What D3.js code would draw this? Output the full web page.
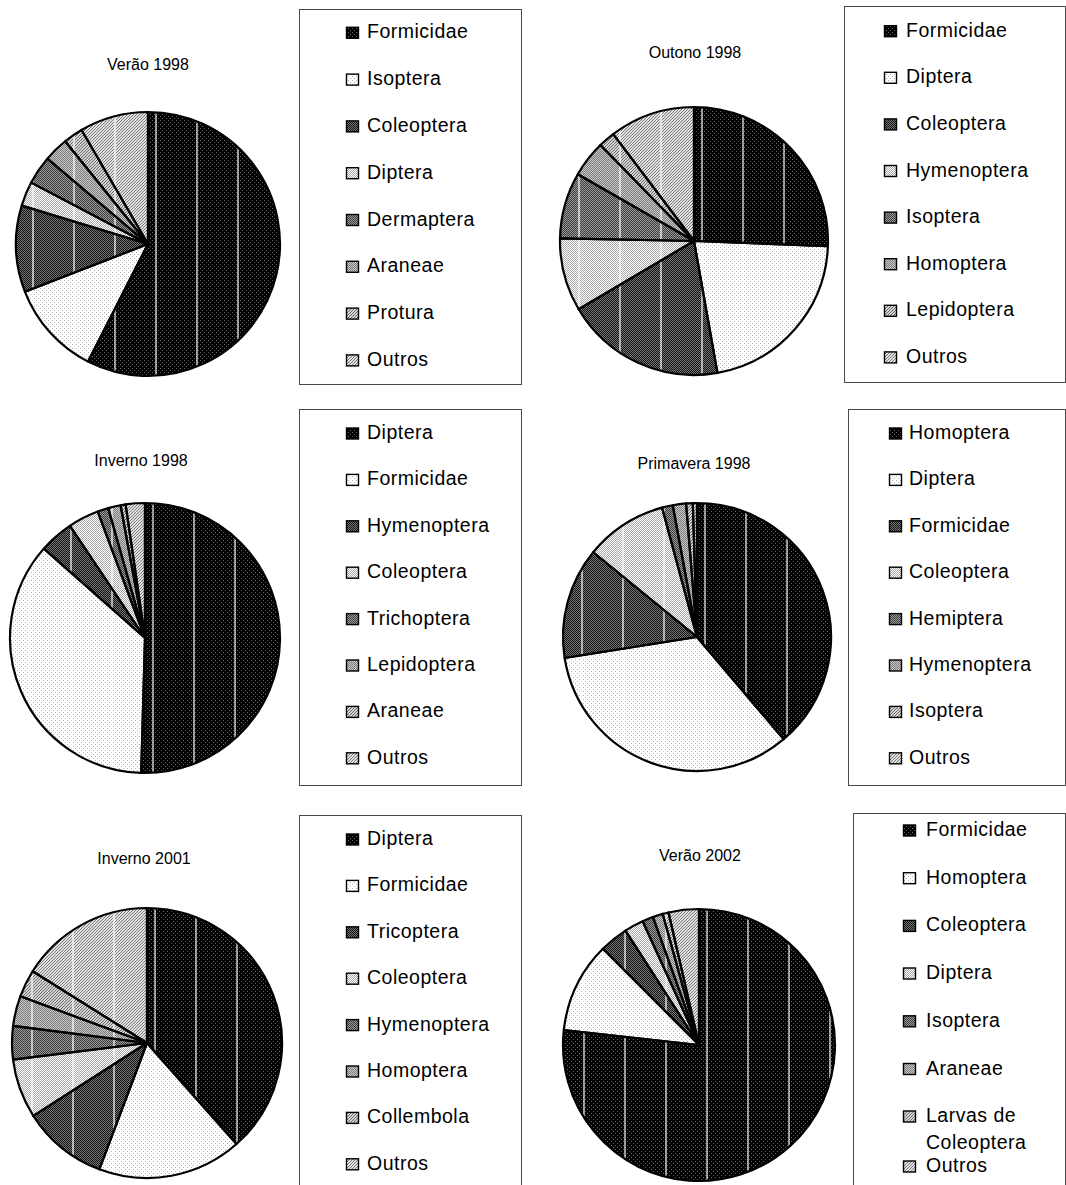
<!DOCTYPE html>
<html>
<head>
<meta charset="utf-8">
<script src="https://cdn.jsdelivr.net/npm/d3@7"></script>
<style>
  html, body { margin: 0; padding: 0; background: #fff; }
  svg { display: block; }
  text { font-family: "Liberation Sans", Arial, sans-serif; fill: #000; }
</style>
</head>
<body>
<svg id="chart" width="1066" height="1185"></svg>
<script>
// ---------- DATA ----------
const titles = ["Verão 1998", "Outono 1998", "Inverno 1998", "Primavera 1998", "Inverno 2001", "Verão 2002"];

const categoriesVerao1998 = ["Formicidae", "Isoptera", "Coleoptera", "Diptera", "Dermaptera", "Araneae", "Protura", "Outros"];
const valuesVerao1998 = [57.5, 11.6, 10.6, 3.0, 3.5, 3.0, 2.4, 8.4];

const categoriesOutono1998 = ["Formicidae", "Diptera", "Coleoptera", "Hymenoptera", "Isoptera", "Homoptera", "Lepidoptera", "Outros"];
const valuesOutono1998 = [25.6, 21.6, 19.3, 8.8, 8.0, 4.4, 2.0, 10.3];

const categoriesInverno1998 = ["Diptera", "Formicidae", "Hymenoptera", "Coleoptera", "Trichoptera", "Lepidoptera", "Araneae", "Outros"];
const valuesInverno1998 = [50.5, 36.1, 4.1, 3.7, 1.3, 1.5, 0.6, 2.3];

const categoriesPrimavera1998 = ["Homoptera", "Diptera", "Formicidae", "Coleoptera", "Hemiptera", "Hymenoptera", "Isoptera", "Outros"];
const valuesPrimavera1998 = [38.8, 33.7, 13.4, 9.9, 1.3, 1.6, 0.8, 0.5];

const categoriesInverno2001 = ["Diptera", "Formicidae", "Tricoptera", "Coleoptera", "Hymenoptera", "Homoptera", "Collembola", "Outros"];
const valuesInverno2001 = [38.5, 17.3, 10.2, 7.1, 4.0, 3.6, 3.3, 16.1];

const categoriesVerao2002 = ["Formicidae", "Homoptera", "Coleoptera", "Diptera", "Isoptera", "Araneae", "Larvas de Coleoptera", "Outros"];
const valuesVerao2002 = [76.8, 10.75, 3.4, 2.3, 1.3, 1.2, 0.7, 3.6];

const seriesCategories = [categoriesVerao1998, categoriesOutono1998, categoriesInverno1998, categoriesPrimavera1998, categoriesInverno2001, categoriesVerao2002];
const seriesValues = [valuesVerao1998, valuesOutono1998, valuesInverno1998, valuesPrimavera1998, valuesInverno2001, valuesVerao2002];

// ---------- LAYOUT ----------
const layout = [
  { cx: 148, cy: 244, r: 132, tx: 148, ty: 64,
    box: [299, 9, 222, 375], swX: 346, txX: 367, legY: [31.3, 78.1, 124.9, 171.7, 218.5, 265.3, 312.1, 358.9] },
  { cx: 694, cy: 241, r: 134, tx: 695, ty: 52,
    box: [844, 6, 221, 376], swX: 884, txX: 906, legY: [29.7, 76.3, 122.9, 169.5, 216.1, 262.7, 309.3, 355.9] },
  { cx: 145, cy: 638, r: 135, tx: 141, ty: 460,
    box: [299, 409, 222, 376], swX: 346, txX: 367, legY: [432, 478.4, 524.8, 571.2, 617.6, 664, 710.4, 756.8] },
  { cx: 697, cy: 637, r: 134, tx: 694, ty: 463,
    box: [848, 409, 217, 376], swX: 889, txX: 909, legY: [432, 478.4, 524.8, 571.2, 617.6, 664, 710.4, 756.8] },
  { cx: 147, cy: 1043, r: 135, tx: 144, ty: 858,
    box: [299, 815, 222, 380], swX: 346, txX: 367, legY: [838, 884.4, 930.8, 977.2, 1023.6, 1070, 1116.4, 1162.8] },
  { cx: 699, cy: 1045, r: 136, tx: 700, ty: 855,
    box: [853, 813, 212, 380], swX: 903, txX: 926, legY: [829, 876.7, 924.4, 972, 1019.8, 1067.5, 1115, 1165],
    wrap: { 6: ["Larvas de", "Coleoptera"] } }
];

const svg = d3.select("#chart");
const defs = svg.append("defs");

// ---------- PATTERNS (Excel-like B/W fills) ----------
function checker(id, a, b) {
  const p = defs.append("pattern").attr("id", id).attr("patternUnits", "userSpaceOnUse")
    .attr("width", 2).attr("height", 2);
  p.append("rect").attr("width", 2).attr("height", 2).attr("fill", a);
  p.append("rect").attr("x", 1).attr("y", 0).attr("width", 1).attr("height", 1).attr("fill", b);
  p.append("rect").attr("x", 0).attr("y", 1).attr("width", 1).attr("height", 1).attr("fill", b);
}
function dots(id, bg, dot) {
  const p = defs.append("pattern").attr("id", id).attr("patternUnits", "userSpaceOnUse")
    .attr("width", 4).attr("height", 4);
  p.append("rect").attr("width", 4).attr("height", 4).attr("fill", bg);
  p.append("rect").attr("x", 0).attr("y", 0).attr("width", 1).attr("height", 1).attr("fill", dot);
  p.append("rect").attr("x", 2).attr("y", 2).attr("width", 1).attr("height", 1).attr("fill", dot);
}
function hatch(id, bg, line, size) {
  const p = defs.append("pattern").attr("id", id).attr("patternUnits", "userSpaceOnUse")
    .attr("width", size).attr("height", size);
  p.append("rect").attr("width", size).attr("height", size).attr("fill", bg);
  for (let i = 0; i < size; i++) {
    p.append("rect").attr("x", i).attr("y", size - 1 - i).attr("width", 1).attr("height", 1).attr("fill", line);
  }
}
dots("f0", "#000", "#6a6a6a");
dots("f1", "#fff", "#b4b4b4");
checker("f2", "#111", "#777");
checker("f3", "#fff", "#a8a8a8");
checker("f4", "#3c3c3c", "#9a9a9a");
checker("f5", "#7c7c7c", "#c8c8c8");
hatch("f6", "#d4d4d4", "#6a6a6a", 3);
hatch("f7", "#e2e2e2", "#7a7a7a", 3);
const fills = d3.range(8).map(i => `url(#f${i})`);
const color = d3.scaleOrdinal().domain(d3.range(8)).range(fills);

const pie = d3.pie().sort(null).value(d => d.v);

layout.forEach((L, k) => {
  const cats = seriesCategories[k];
  const vals = seriesValues[k];
  const data = cats.map((c, i) => ({ c, v: vals[i], i }));
  const arcs = pie(data);
  const arc = d3.arc().innerRadius(0).outerRadius(L.r);

  const g = svg.append("g");

  // title
  g.append("text").attr("x", L.tx).attr("y", L.ty + 6)
    .attr("text-anchor", "middle").attr("font-size", 16).text(titles[k]);

  const pg = g.append("g").attr("transform", `translate(${L.cx},${L.cy})`);

  // slice fills
  pg.selectAll("path.fill").data(arcs).join("path")
    .attr("class", "fill").attr("d", arc).attr("fill", d => color(d.data.i)).attr("stroke", "none");

  // raster artefact: white vertical lines through the pie
  const clipId = "clip" + k;
  defs.append("clipPath").attr("id", clipId)
    .append("circle").attr("cx", 0).attr("cy", 0).attr("r", L.r - 1);
  const offsets = d3.range(-4, 4).map(j => 8 + 41 * j).filter(x => Math.abs(x) < L.r - 4);
  pg.append("g").attr("clip-path", `url(#${clipId})`)
    .selectAll("line").data(offsets).join("line")
    .attr("x1", d => d).attr("x2", d => d).attr("y1", -L.r).attr("y2", L.r)
    .attr("stroke", "#fff").attr("stroke-width", 1.2);

  // slice borders
  pg.selectAll("path.edge").data(arcs).join("path")
    .attr("class", "edge").attr("d", arc).attr("fill", "none")
    .attr("stroke", "#000").attr("stroke-width", 2.2).attr("stroke-linejoin", "round");

  // legend box
  const [bx, by, bw, bh] = L.box;
  g.append("rect").attr("x", bx + 0.5).attr("y", by + 0.5).attr("width", bw).attr("height", bh)
    .attr("fill", "none").attr("stroke", "#4a4a4a").attr("stroke-width", 1);

  const leg = g.selectAll("g.leg").data(data).join("g").attr("class", "leg");
  leg.append("rect")
    .attr("x", L.swX + 0.5).attr("y", d => L.legY[d.i] - 4)
    .attr("width", 12).attr("height", 11)
    .attr("fill", d => color(d.i)).attr("stroke", "#000").attr("stroke-width", 1.4);
  leg.each(function(d) {
    const t = d3.select(this).append("text")
      .attr("x", L.txX).attr("y", L.legY[d.i] + 7)
      .attr("font-size", 19.5).attr("letter-spacing", 0.5);
    const lines = (L.wrap && L.wrap[d.i]) ? L.wrap[d.i] : [d.c];
    lines.forEach((ln, j) => {
      t.append("tspan").attr("x", L.txX).attr("dy", j === 0 ? 0 : 27).text(ln);
    });
  });
});
</script>
</body>
</html>
